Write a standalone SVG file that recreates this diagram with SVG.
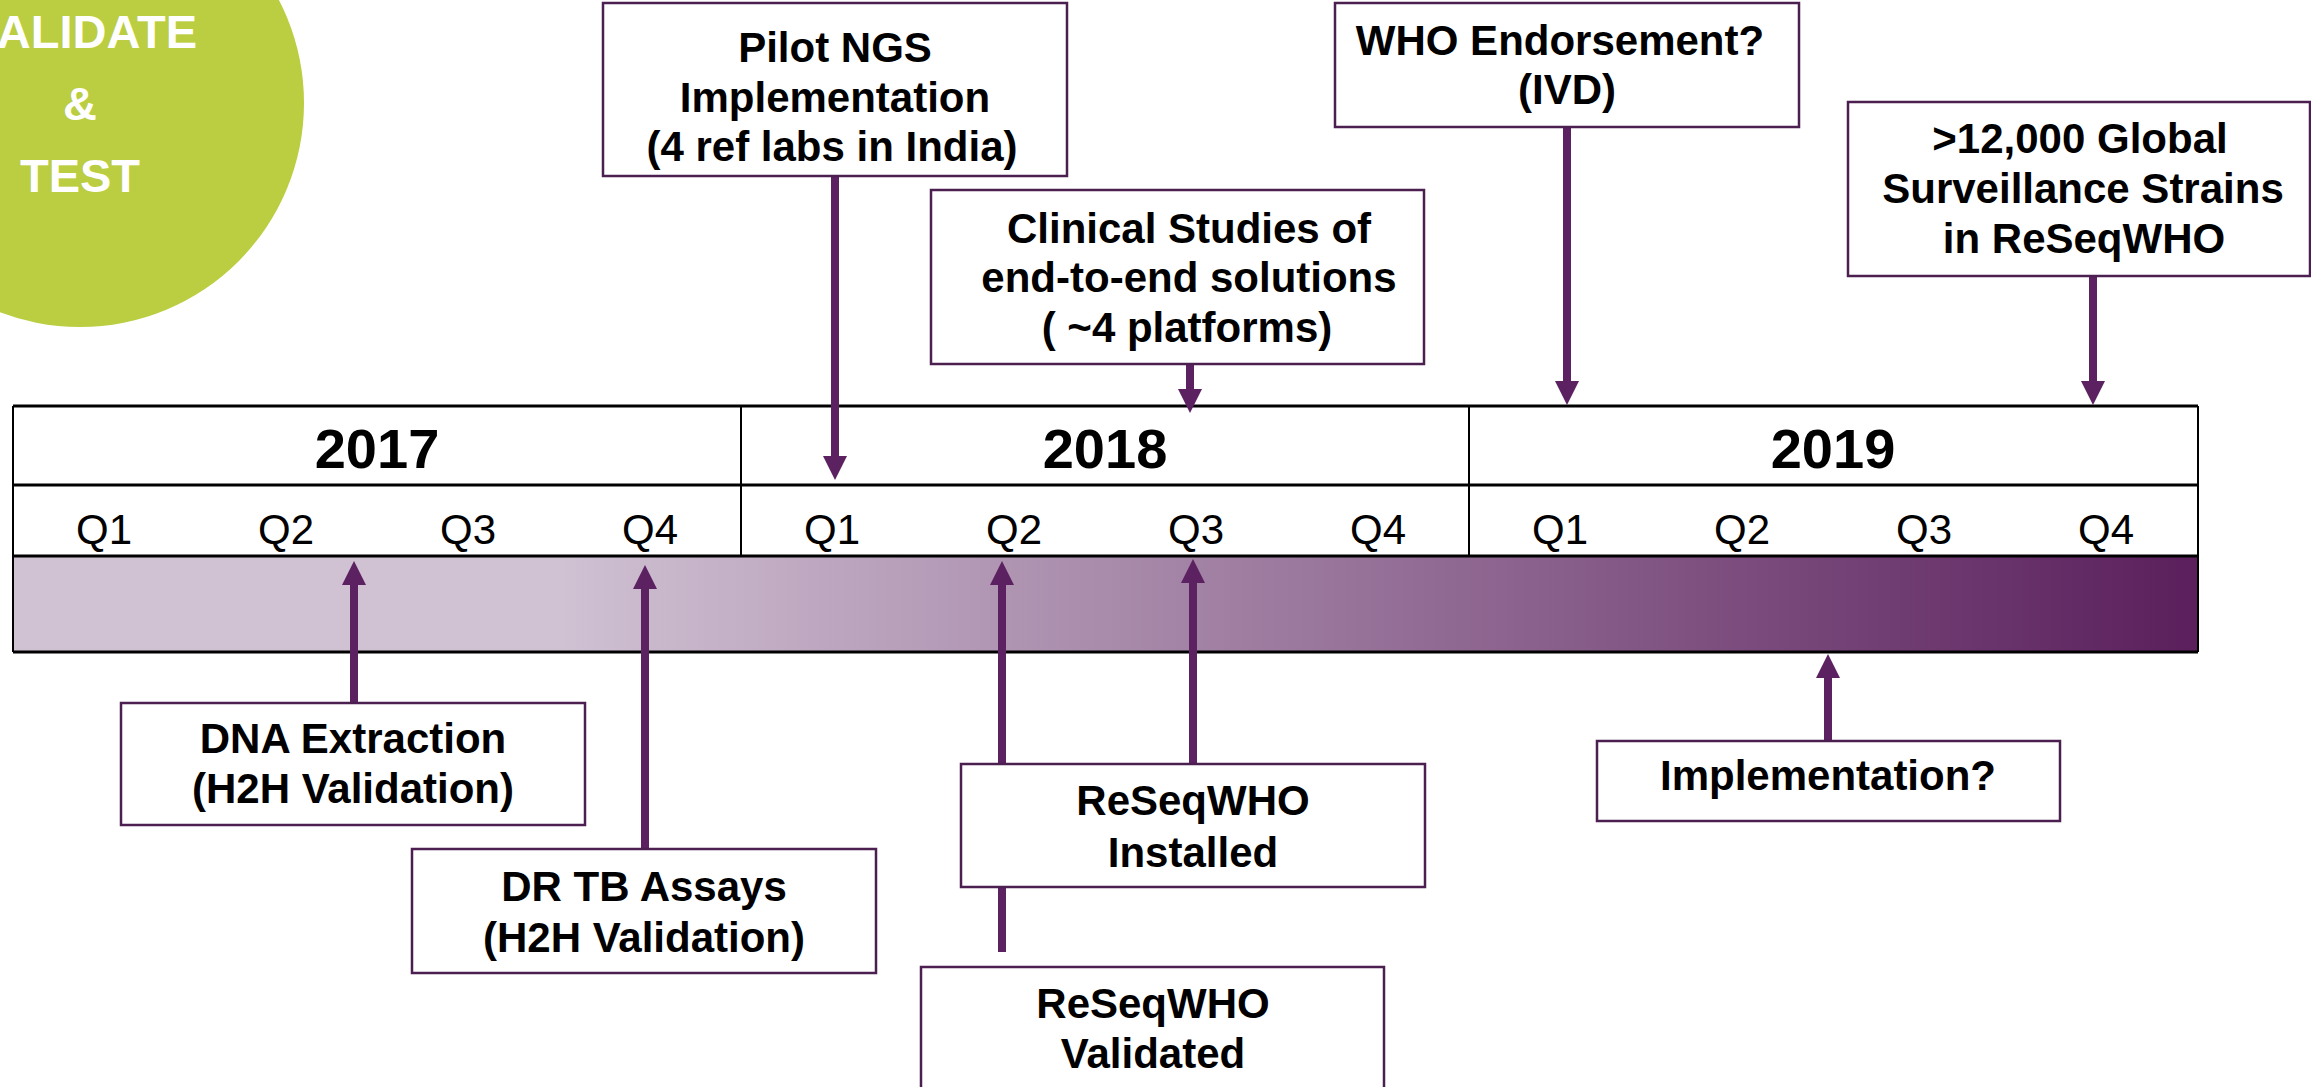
<svg xmlns="http://www.w3.org/2000/svg" width="2311" height="1087" viewBox="0 0 2311 1087">
<style>
.box{fill:#ffffff;stroke:#4b1f50;stroke-width:2.5}
.lbl{font-family:"Liberation Sans",Arial,sans-serif;font-weight:bold;font-size:42px;text-anchor:middle;fill:#000000}
.circ{font-family:"Liberation Sans",Arial,sans-serif;font-weight:bold;font-size:47px;fill:#ffffff}
.yr{font-family:"Liberation Sans",Arial,sans-serif;font-weight:bold;font-size:56px;text-anchor:middle;fill:#000000}
.q{font-family:"Liberation Sans",Arial,sans-serif;font-size:42px;text-anchor:middle;fill:#000000}
.conn{stroke:#5b2160;stroke-width:8;fill:none;marker-end:url(#ah)}
.tl{stroke:#000000;stroke-width:3;fill:none}
.tv{stroke:#000000;stroke-width:2;fill:none}
</style>
<defs>
<linearGradient id="bar" x1="0" y1="0" x2="1" y2="0">
<stop offset="0" stop-color="#d0c1d3"/>
<stop offset="0.25" stop-color="#d0c1d3"/>
<stop offset="1" stop-color="#5a1f5c"/>
</linearGradient>
<marker id="ah" markerUnits="userSpaceOnUse" markerWidth="24" markerHeight="24" viewBox="0 0 24 24" refX="0" refY="12" orient="auto">
<path d="M0,0 L24,12 L0,24 z" fill="#5b2160"/>
</marker>
</defs>
<rect width="2311" height="1087" fill="#ffffff"/>
<g id="phase-circle">
<circle cx="80" cy="103" r="224" fill="#bbcd40"/>
<text class="circ" x="197" y="48" text-anchor="end">ALIDATE</text>
<text class="circ" x="80" y="120" text-anchor="middle">&amp;</text>
<text class="circ" x="80" y="192" text-anchor="middle">TEST</text>
</g>
<g id="timeline">
<rect x="13" y="556" width="2185" height="96" fill="url(#bar)"/>
<rect x="13" y="406" width="2185" height="150" fill="#ffffff"/>
<line class="tl" x1="13" y1="406" x2="2198" y2="406"/>
<line class="tl" x1="13" y1="485" x2="2198" y2="485"/>
<line class="tl" x1="13" y1="556" x2="2198" y2="556"/>
<line class="tl" x1="13" y1="652" x2="2198" y2="652"/>
<line class="tv" x1="13" y1="406" x2="13" y2="652"/>
<line class="tv" x1="2198" y1="406" x2="2198" y2="652"/>
<line class="tv" x1="741" y1="406" x2="741" y2="556"/>
<line class="tv" x1="1469" y1="406" x2="1469" y2="556"/>
<text class="yr" x="377" y="468">2017</text>
<text class="yr" x="1105" y="468">2018</text>
<text class="yr" x="1833" y="468">2019</text>
<text class="q" x="104" y="544">Q1</text>
<text class="q" x="286" y="544">Q2</text>
<text class="q" x="468" y="544">Q3</text>
<text class="q" x="650" y="544">Q4</text>
<text class="q" x="832" y="544">Q1</text>
<text class="q" x="1014" y="544">Q2</text>
<text class="q" x="1196" y="544">Q3</text>
<text class="q" x="1378" y="544">Q4</text>
<text class="q" x="1560" y="544">Q1</text>
<text class="q" x="1742" y="544">Q2</text>
<text class="q" x="1924" y="544">Q3</text>
<text class="q" x="2106" y="544">Q4</text>
</g>
<g id="connectors">
<path class="conn" d="M835,176 L835,456"/>
<path class="conn" d="M1190,364 L1190,389"/>
<path class="conn" d="M1567,127 L1567,381"/>
<path class="conn" d="M2093,277 L2093,381"/>
<path class="conn" d="M354,703 L354,585"/>
<path class="conn" d="M645,849 L645,589"/>
<path class="conn" d="M1002,952 L1002,585"/>
<path class="conn" d="M1193,764 L1193,583"/>
<path class="conn" d="M1828,741 L1828,678"/>
</g>
<g id="pilot-ngs">
<rect class="box" x="603" y="3" width="464" height="173"/>
<text class="lbl" x="835" y="62">Pilot NGS</text>
<text class="lbl" x="835" y="112">Implementation</text>
<text class="lbl" x="832" y="161">(4 ref labs in India)</text>
</g>
<g id="clinical-studies">
<rect class="box" x="931" y="190" width="493" height="174"/>
<text class="lbl" x="1189" y="243">Clinical Studies of</text>
<text class="lbl" x="1189" y="292">end-to-end solutions</text>
<text class="lbl" x="1187" y="342">( ~4 platforms)</text>
</g>
<g id="who-endorsement">
<rect class="box" x="1335" y="3" width="464" height="124"/>
<text class="lbl" x="1560" y="55">WHO Endorsement?</text>
<text class="lbl" x="1567" y="104">(IVD)</text>
</g>
<g id="global-strains">
<rect class="box" x="1848" y="102" width="462" height="174"/>
<text class="lbl" x="2080" y="153">&gt;12,000 Global</text>
<text class="lbl" x="2083" y="203">Surveillance Strains</text>
<text class="lbl" x="2084" y="253">in ReSeqWHO</text>
</g>
<g id="dna-extraction">
<rect class="box" x="121" y="703" width="464" height="122"/>
<text class="lbl" x="353" y="753">DNA Extraction</text>
<text class="lbl" x="353" y="803">(H2H Validation)</text>
</g>
<g id="dr-tb-assays">
<rect class="box" x="412" y="849" width="464" height="124"/>
<text class="lbl" x="644" y="901">DR TB Assays</text>
<text class="lbl" x="644" y="952">(H2H Validation)</text>
</g>
<g id="reseqwho-installed">
<rect class="box" x="961" y="764" width="464" height="123"/>
<text class="lbl" x="1193" y="815">ReSeqWHO</text>
<text class="lbl" x="1193" y="867">Installed</text>
</g>
<g id="reseqwho-validated">
<rect class="box" x="921" y="967" width="463" height="130"/>
<text class="lbl" x="1153" y="1018">ReSeqWHO</text>
<text class="lbl" x="1153" y="1068">Validated</text>
</g>
<g id="implementation">
<rect class="box" x="1597" y="741" width="463" height="80"/>
<text class="lbl" x="1828" y="790">Implementation?</text>
</g>
</svg>
